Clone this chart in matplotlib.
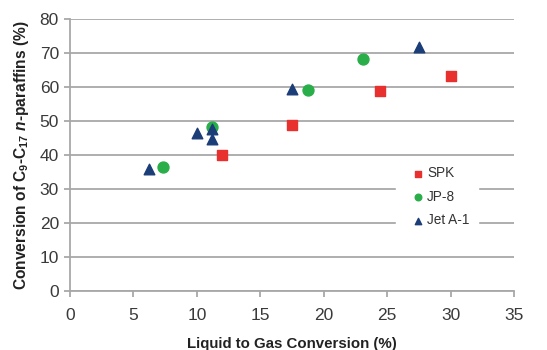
import matplotlib
matplotlib.use('Agg')
from matplotlib import pyplot as plt

plt.rcParams['font.family'] = ['Liberation Sans', 'DejaVu Sans']
plt.rcParams['mathtext.fontset'] = 'custom'
plt.rcParams['mathtext.rm'] = 'Liberation Sans:bold'
plt.rcParams['mathtext.bf'] = 'Liberation Sans:bold'
plt.rcParams['mathtext.it'] = 'Liberation Sans:bold:italic'

# data
spk_x = [12.0, 17.5, 24.4, 30.0]
spk_y = [40.0, 48.9, 58.8, 63.2]
jp8_x = [7.3, 11.2, 18.8, 23.1]
jp8_y = [36.6, 48.2, 59.1, 68.1]
jet_x = [6.2, 10.0, 11.2, 11.2, 17.5, 27.5]
jet_y = [36.0, 46.4, 47.7, 44.6, 59.3, 71.9]

grey = '#a8a8a8'

fig = plt.figure(figsize=(5.47, 3.5), dpi=100)
ax = fig.add_axes([70 / 547, 59 / 350, 444 / 547, 272 / 350])

ax.set_xlim(0, 35)
ax.set_ylim(0, 80)
ax.set_xticks(range(0, 36, 5))
ax.set_yticks(range(0, 81, 10))
ax.yaxis.grid(True, color=grey, linewidth=1.3)
ax.set_axisbelow(True)
for side in ['top', 'right']:
    ax.spines[side].set_visible(False)
for side in ['left', 'bottom']:
    ax.spines[side].set_color(grey)
    ax.spines[side].set_linewidth(1.3)
ax.tick_params(colors=grey, labelcolor='#3a3a3a', labelsize=12.5, length=4, width=1.3)
ax.tick_params(axis='x', pad=8)
ax.tick_params(axis='y', pad=4)

ax.scatter(spk_x, spk_y, marker='s', s=50, color='#e8312f', label='SPK', zorder=3)
ax.scatter(jp8_x, jp8_y, marker='o', s=62, color='#2aae4a', label='JP-8', zorder=3)
ax.scatter(jet_x, jet_y, marker='^', s=58, color='#1b3d78', label='Jet A-1', zorder=3)

ax.set_xlabel('Liquid to Gas Conversion (%)', fontsize=10.8, fontweight='bold', color='#222222', labelpad=10)
ax.set_ylabel(r'Conversion of C$_{\mathbf{9}}$-C$_{\mathbf{17}}$ $\mathit{n}$-paraffins (%)',
              fontsize=11.2, fontweight='bold', color='#222222', labelpad=6)

leg = ax.legend(loc='upper left', bbox_to_anchor=(396 / 547, 1 - 158 / 350),
                bbox_transform=fig.transFigure, borderaxespad=0,
                frameon=True, fancybox=False, edgecolor='white', facecolor='white',
                framealpha=1, fontsize=9.8, handletextpad=-0.3, labelspacing=0.7,
                markerscale=0.6, borderpad=0.6)
for t in leg.get_texts():
    t.set_color('#333333')

fig.savefig('out.png', dpi=100)
